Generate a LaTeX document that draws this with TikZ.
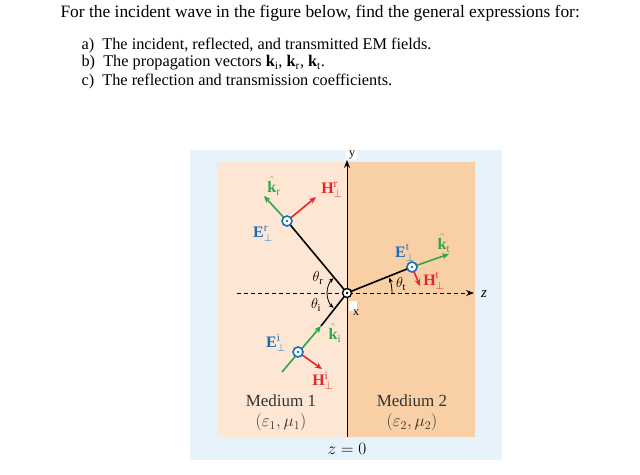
\documentclass[tikz,border=0pt]{standalone}
\usepackage{fontspec}
\setmainfont{Liberation Serif}
\usetikzlibrary{arrows.meta}
\definecolor{bgblue}{rgb}{0.902, 0.953, 0.984}
\definecolor{medone}{rgb}{0.992, 0.902, 0.827}
\definecolor{medtwo}{rgb}{0.976, 0.812, 0.651}
\definecolor{kgreen}{rgb}{0.180, 0.650, 0.290}
\definecolor{hred}{rgb}{0.910, 0.150, 0.165}
\definecolor{eblue}{rgb}{0.100, 0.430, 0.720}
\tikzset{
  ray/.style={line width=1.6pt, black},
  kvec/.style={line width=1.6pt, kgreen, -{Stealth[length=7pt,width=6pt]}},
  hvec/.style={line width=1.6pt, hred, -{Stealth[length=7pt,width=6pt]}},
  klab/.style={text=kgreen, inner sep=0pt, font=\fontsize{16}{16}\selectfont},
  hlab/.style={text=hred, inner sep=0pt, font=\fontsize{16}{16}\selectfont},
  elab/.style={text=eblue, inner sep=0pt, font=\fontsize{16}{16}\selectfont},
  anglab/.style={inner sep=0pt, font=\fontsize{15}{15}\selectfont},
  txt/.style={font=\fontsize{16.3}{18}\selectfont, anchor=west},
  medlab/.style={font=\fontsize{17}{20}\selectfont, align=center, text=black!80},
  dotin/.style={circle, draw=eblue, fill=white, line width=1.6pt, inner sep=0pt, minimum size=10pt}
}
\newcommand{\dotmark}[2]{% dot-in-circle marker
  \node[dotin] (#1) at #2 {};
  \fill[eblue] (#1) circle (1.4pt);
}
\begin{document}
\begin{tikzpicture}[x=1pt, y=-1pt]
\useasboundingbox (0,0) rectangle (640,474);
% question text
\node[txt, font=\fontsize{17.4}{20}\selectfont] (q) at (57,13) {For the incident wave in the figure below, find the general expressions for:};
\node[txt] (qa) at (78,45) {a)\enspace The incident, reflected, and transmitted EM fields.};
\node[txt] (qb) at (78,63) {b)\enspace The propagation vectors $\mathbf{k}_{\mathrm{i}}$, $\mathbf{k}_{\mathrm{r}}$, $\mathbf{k}_{\mathrm{t}}$.};
\node[txt] (qc) at (78,81) {c)\enspace The reflection and transmission coefficients.};
% media
\fill[bgblue] (190,150) rectangle (502,460);
\fill[medone] (217,162) rectangle (347,437);
\fill[medtwo] (347,162) rectangle (475,437);
% axes
\coordinate (O) at (347,293);
\coordinate (ybot) at (347,437);
\coordinate (ytop) at (347,160);
\coordinate (zl) at (237,293);
\coordinate (zr) at (474,293);
\fill[white] (345,147) rectangle (357,160);
\draw[line width=1pt, -{Stealth[length=8pt,width=6pt]}] (ybot) -- (ytop);
\node[font=\fontsize{12}{12}\selectfont] (ylab) at (352,155) {y};
\draw[line width=1pt, dashed, dash pattern=on 4pt off 3pt, -{Stealth[length=8pt,width=6pt]}] (zl) -- (zr);
\node[font=\itshape\fontsize{15}{15}\selectfont] (zlab) at (484,294) {z};
\fill[white] (349,301) rectangle (357,311);
\node[font=\fontsize{12}{12}\selectfont] (xlab) at (356,313) {x};
% reflected wave
\coordinate (Pr) at (287,221);
\coordinate (kr) at (264,196);
\coordinate (Hr) at (316,197);
\draw[ray] (O) -- (Pr);
\draw[kvec] (Pr) -- (kr);
\draw[hvec] (Pr) -- (Hr);
\dotmark{Er}{(Pr)}
\node[klab] (krlab) at (274,186) {$\hat{\mathbf{k}}_{\mathrm{r}}$};
\node[hlab] (Hrlab) at (332,190) {$\mathbf{H}^{\mathrm{r}}_{\perp}$};
\node[elab] (Erlab) at (263,234) {$\mathbf{E}^{\mathrm{r}}_{\perp}$};
% incident wave
\coordinate (Pi) at (298,352);
\coordinate (ki0) at (282,372);
\coordinate (ki) at (321,326);
\coordinate (Hi) at (322,369);
\draw[ray] (ki) -- (O);
\draw[kvec] (ki0) -- (ki);
\draw[hvec] (Pi) -- (Hi);
\dotmark{Ei}{(Pi)}
\node[klab] (kilab) at (335,333) {$\hat{\mathbf{k}}_{\mathrm{i}}$};
\node[hlab] (Hilab) at (323,381) {$\mathbf{H}^{\mathrm{i}}_{\perp}$};
\node[elab] (Eilab) at (276,343) {$\mathbf{E}^{\mathrm{i}}_{\perp}$};
% transmitted wave
\coordinate (Pt) at (412,267);
\coordinate (kt) at (449,254);
\coordinate (Ht) at (420,286);
\draw[ray] (O) -- (Pt);
\draw[kvec] (Pt) -- (kt);
\draw[hvec] (Pt) -- (Ht);
\dotmark{Et}{(Pt)}
\node[klab] (ktlab) at (444,243) {$\hat{\mathbf{k}}_{\mathrm{t}}$};
\node[hlab] (Htlab) at (434,281) {$\mathbf{H}^{\mathrm{t}}_{\perp}$};
\node[elab] (Etlab) at (405,253) {$\mathbf{E}^{\mathrm{t}}_{\perp}$};
% origin marker
\node[circle, draw=black, fill=white, line width=1.4pt, inner sep=0pt, minimum size=9pt] (Oc) at (O) {};
\fill (Oc) circle (1.3pt);
% angles
\draw[line width=0.8pt, -{Stealth[length=5pt,width=4pt]}] (O) ++(180:20) arc[start angle=180, end angle=228, radius=20];
\draw[line width=0.8pt, -{Stealth[length=5pt,width=4pt]}] (O) ++(180:20) arc[start angle=180, end angle=132, radius=20];
\draw[line width=0.8pt, -{Stealth[length=5pt,width=4pt]}] (O) ++(0:45) arc[start angle=0, end angle=-20, radius=45];
\node[anglab] (thr) at (318,278) {$\theta_{\mathrm{r}}$};
\node[anglab] (thi) at (316,305) {$\theta_{\mathrm{i}}$};
\node[anglab] (tht) at (401,284) {$\theta_{\mathrm{t}}$};
% medium labels
\node[medlab] (m1) at (281,413) {Medium 1\\$(\varepsilon_1,\mu_1)$};
\node[medlab] (m2) at (412,413) {Medium 2\\$(\varepsilon_2,\mu_2)$};
\node[font=\fontsize{16}{16}\selectfont] (z0) at (347,449) {$z=0$};
\end{tikzpicture}
\end{document}
